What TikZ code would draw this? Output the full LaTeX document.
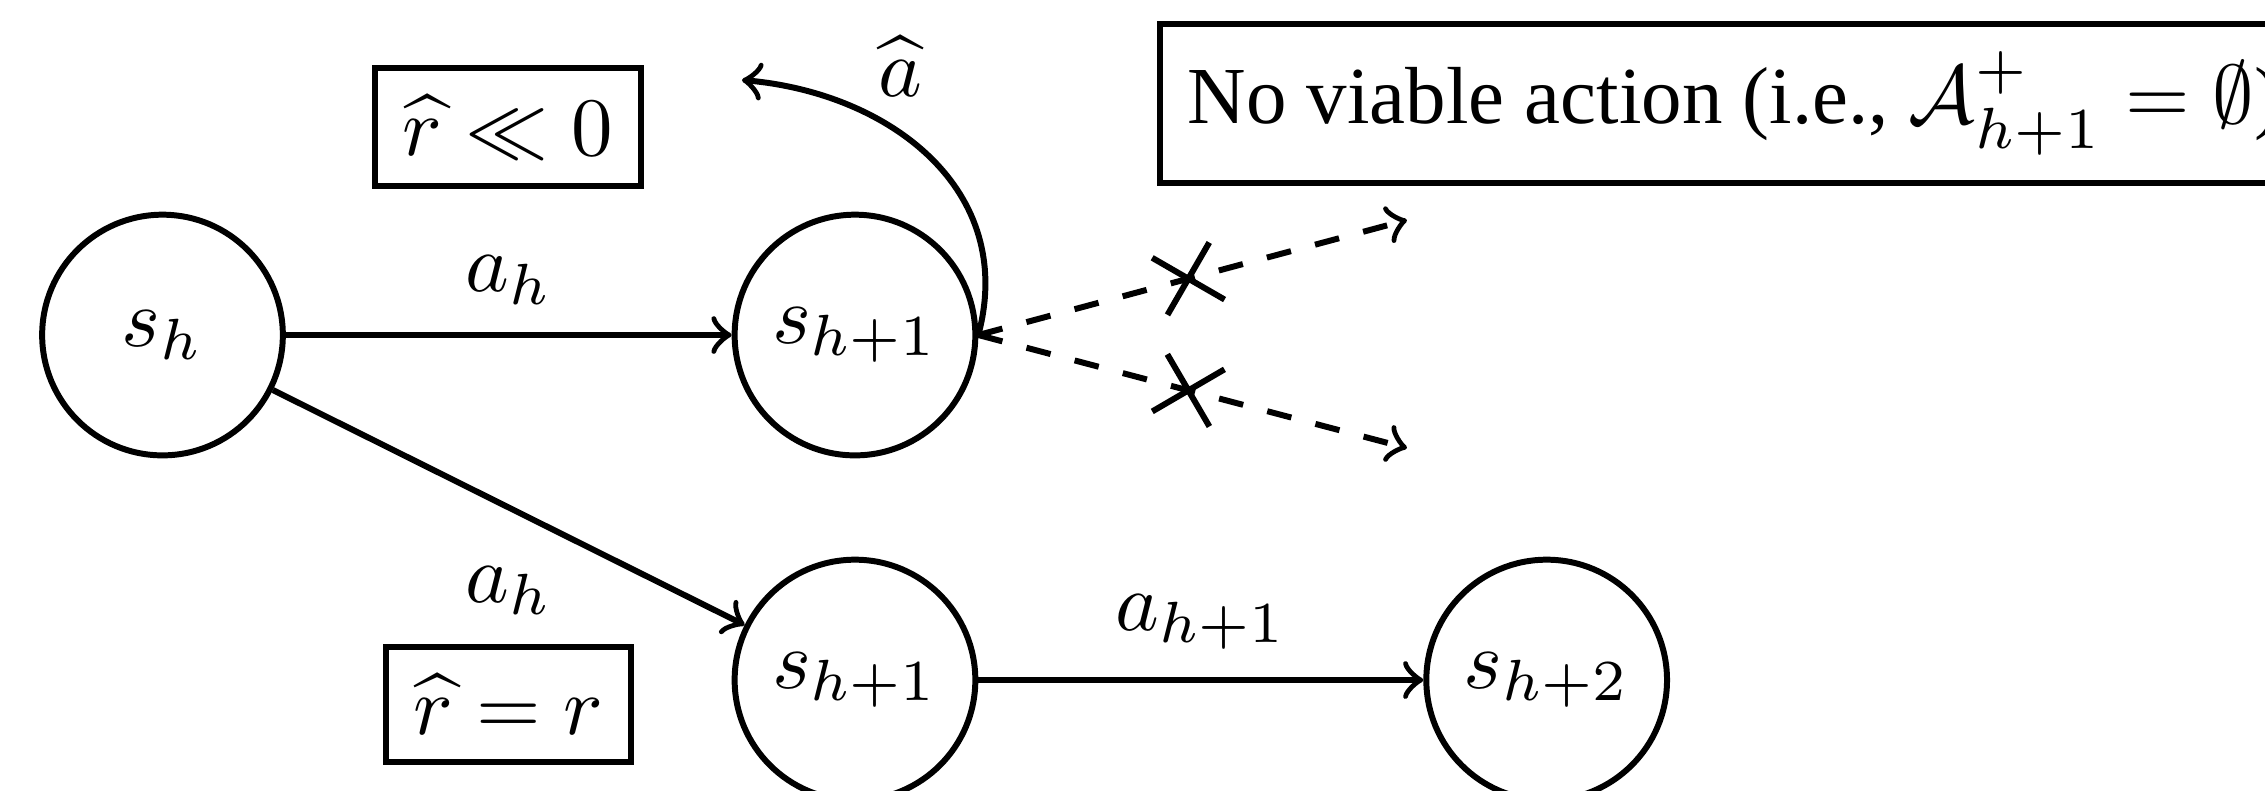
\documentclass[tikz,border=0pt]{standalone}
\usepackage[no-math]{fontspec}
\newfontfamily\timesfont{Liberation Serif}
\usetikzlibrary{shapes.misc}
\begin{document}
\begin{tikzpicture}[x=0.12048pt, y=0.12048pt, line width=0.72pt, >=to,
  state/.style={circle, draw, minimum size=29pt, inner sep=0pt},
  box/.style={draw, rectangle},
  crossmark/.style={cross out, draw, solid, sloped, minimum size=6.4pt, inner sep=0pt}]
\useasboundingbox (0,0) rectangle (2265,-790);
\clip (0,0) rectangle (2265,-790);

\node[state] (sh) at (162.5,-335) {$s_h$};
\node[state] (s1) at (855,-335) {$s_{h+1}$};
\node[state] (s1b) at (855,-680) {$s_{h+1}$};
\node[state] (s2) at (1546.7,-680) {$s_{h+2}$};

\node[box] (b1) at (508,-127) {$\widehat{r} \ll 0$};
\node[box] (b2) at (508.5,-704.5) {$\widehat{r} = r$};
\node[box, anchor=west, font=\fontsize{9.75}{12}\selectfont] (b3) at (1157,-103.5) {\timesfont No viable action (i.e., $\mathcal{A}^+_{h+1} = \emptyset$)};

\coordinate (ahatend) at (742,-80);
\coordinate (up) at (1407,-220);
\coordinate (down) at (1407,-448);

\draw[->] (sh) -- node[above] (l1) {$a_h$} (s1);
\draw[->] (sh) -- node[below=3.4pt] (l2) {$a_h$} (s1b);
\draw[->] (s1b) -- node[above] (l3) {$a_{h+1}$} (s2);
\draw[->] (s1.east) to[out=75,in=-5,looseness=1.1] node[pos=0.6, above=0.8pt] (l4) {$\widehat{a}$} (ahatend);
\draw[->, dashed] (s1.east) -- node[crossmark, pos=0.49] (x1) {} (up);
\draw[->, dashed] (s1.east) -- node[crossmark, pos=0.49] (x2) {} (down);
\end{tikzpicture}
\end{document}
